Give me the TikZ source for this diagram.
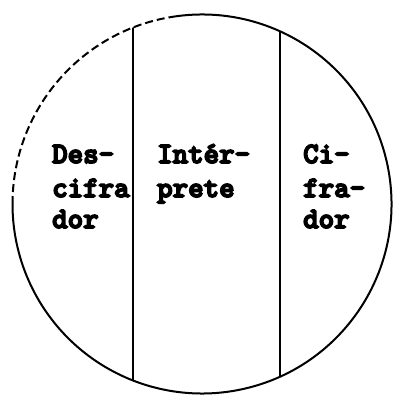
\documentclass[tikz,border=0pt]{standalone}
\usepackage{fontspec}
\newfontfamily\tw{lmmonolt10-bold.otf}[FakeBold=5.5]
\begin{document}
\begin{tikzpicture}[x=1pt,y=-1pt,
  lbl/.style={anchor=base west,inner sep=0pt,font=\tw\fontsize{29.5}{32}\selectfont},
  rim/.style={line width=2pt},
  divider/.style={line width=2.5pt}]
\useasboundingbox (0,0) rectangle (401,394);
\coordinate (c) at (202,204);
% circle: solid part and dashed part (angles negated because y points down)
\draw[rim] (c) ++(-100:189.5) arc[start angle=-100,end angle=180,radius=189.5];
\draw[rim,dash pattern=on 8pt off 4pt] (c) ++(-180:189.5) arc[start angle=-180,end angle=-100,radius=189.5];
% dividers clipped to the circle
\begin{scope}
\clip (c) circle[radius=189.5];
\draw[divider] (133,0) -- (133,394);
\draw[divider] (280,0) -- (280,394);
\end{scope}
% labels
\node[lbl] (d1) at (52,163) {Des-};
\node[lbl] (d2) at (52,197) {cifra};
\node[lbl] (d3) at (52,228) {dor};
\node[lbl] (i1) at (157,163) {Intér-};
\node[lbl] (i2) at (157,197) {prete};
\node[lbl] (c1) at (303,163) {Ci-};
\node[lbl] (c2) at (303,197) {fra-};
\node[lbl] (c3) at (303,228) {dor};
\end{tikzpicture}
\end{document}
